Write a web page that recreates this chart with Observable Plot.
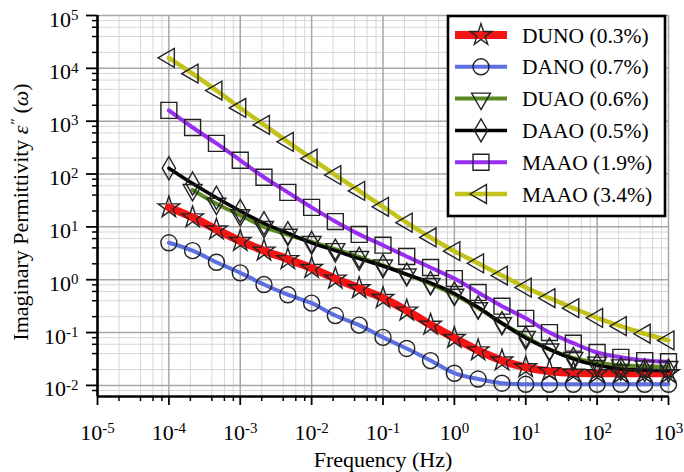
<!DOCTYPE html>
<html><head><meta charset="utf-8">
<script src="https://cdn.jsdelivr.net/npm/d3@7"></script>
<script src="https://cdn.jsdelivr.net/npm/@observablehq/plot@0.6"></script>
<style>body{margin:0;background:#fff}</style>
</head><body><div id="chart"></div>
<script>
// Frequencies (Hz)
const freq = [1e-4, 2.15e-4, 4.64e-4, 1e-3, 2.15e-3, 4.64e-3, 1e-2, 2.15e-2, 4.64e-2, 1e-1, 2.15e-1, 4.64e-1,
              1, 2.15, 4.64, 10, 21.5, 46.4, 100, 215, 464, 1000];

const seriesNames = ["DUNO (0.3%)", "DANO (0.7%)", "DUAO (0.6%)", "DAAO (0.5%)", "MAAO (1.9%)", "MAAO (3.4%)"];
const seriesColors = ["#f41414", "#5b6ee2", "#5a8a20", "#000000", "#9a2df2", "#c2c21a"];

const duno = [23.4, 15.1, 8.9, 5.4, 3.55, 2.45, 1.66, 1.05, 0.69, 0.45, 0.26, 0.14,
              0.079, 0.046, 0.0295, 0.022, 0.0186, 0.0174, 0.017, 0.017, 0.017, 0.017];
const dano = [5.0, 3.55, 2.14, 1.35, 0.81, 0.52, 0.36, 0.21, 0.138, 0.081, 0.05, 0.0295,
              0.017, 0.0132, 0.011, 0.0105, 0.0105, 0.0105, 0.0105, 0.0105, 0.0105, 0.0105];
const duao = [null, 50, 27.5, 16.6, 10, 7.1, 5.2, 3.8, 2.7, 1.86, 1.26, 0.83,
              0.52, 0.29, 0.15, 0.083, 0.048, 0.033, 0.027, 0.024, 0.023, 0.0224];
const daao = [129, 66, 35.5, 20, 11.7, 7.6, 5.0, 3.55, 2.5, 1.82, 1.26, 0.87,
              0.55, 0.30, 0.15, 0.079, 0.048, 0.0316, 0.024, 0.0205, 0.0195, 0.019];
const maao19 = [1600, 760, 380, 182, 87, 45, 23.4, 12.6, 7.2, 4.5, 2.75, 1.7,
                1.05, 0.575, 0.316, 0.186, 0.1, 0.063, 0.042, 0.034, 0.0295, 0.028];
const maao34 = [15800, 7940, 3800, 1780, 851, 407, 195, 95.5, 47.9, 24, 12, 6.3,
                3.47, 2.04, 1.2, 0.71, 0.45, 0.29, 0.19, 0.132, 0.095, 0.071];

const seriesValues = [duno, dano, duao, daao, maao19, maao34];

const majorX = [1e-5, 1e-4, 1e-3, 1e-2, 1e-1, 1e0, 1e1, 1e2, 1e3];
const majorY = [1e-2, 1e-1, 1e0, 1e1, 1e2, 1e3, 1e4, 1e5];
const minorMult = [2, 4, 6, 8];
const yMin = Math.pow(10, -2.21), yMax = 1e5;

const minorX = [], minorY = [];
for (const d of majorX.slice(0, -1)) for (const m of minorMult) minorX.push(d * m);
for (const d of [1e-3, ...majorY.slice(0, -1)]) for (const m of minorMult) if (d * m >= yMin && d * m <= yMax) minorY.push(d * m);

// custom marker symbols
const s3 = Math.sqrt(3);
const triDown = {draw(ctx, size) { const t = Math.sqrt(size / (s3 * 3));
  ctx.moveTo(0, 2 * t); ctx.lineTo(-s3 * t, -t); ctx.lineTo(s3 * t, -t); ctx.closePath(); }};
const triLeft = {draw(ctx, size) { const t = Math.sqrt(size / (s3 * 3));
  ctx.moveTo(-2 * t, 0); ctx.lineTo(t, -s3 * t); ctx.lineTo(t, s3 * t); ctx.closePath(); }};
const symbols = [d3.symbolStar, d3.symbolCircle, triDown, d3.symbolDiamond, d3.symbolSquare, triLeft];
const symR = [6.8, 8, 7, 7, 9, 7];
const lineW = [8, 4, 4, 3.5, 4, 4.5];

const rows = seriesValues.map((vals, i) =>
  freq.map((f, j) => ({series: seriesNames[i], f, v: vals[j]})).filter(d => d.v != null));

const drawOrder = [1, 0, 2, 3, 4, 5];
const fmt = d => "10^" + Math.round(Math.log10(d));
const serif = "'Liberation Serif', 'Times New Roman', serif";

const svg = Plot.plot({
  width: 684, height: 472,
  marginLeft: 97, marginRight: 16, marginTop: 15, marginBottom: 76,
  x: {type: "log", domain: [1e-5, 1e3]},
  y: {type: "log", domain: [yMin, yMax]},
  style: {fontFamily: serif, fontSize: "22px", background: "#fff", color: "#000"},
  marks: [
    Plot.gridX(minorX, {stroke: "#d6d6d6", strokeOpacity: 1, strokeWidth: 1}),
    Plot.gridY(minorY, {stroke: "#d6d6d6", strokeOpacity: 1, strokeWidth: 1}),
    Plot.gridX(majorX, {stroke: "#a6a6a6", strokeOpacity: 1, strokeWidth: 1.5}),
    Plot.gridY(majorY, {stroke: "#a6a6a6", strokeOpacity: 1, strokeWidth: 1.5}),
    ...drawOrder.map(i => Plot.line(rows[i], {x: "f", y: "v", stroke: seriesColors[i], strokeWidth: lineW[i], curve: "catmull-rom"})),
    ...drawOrder.map(i => Plot.dot(rows[i], {x: "f", y: "v", symbol: symbols[i], r: symR[i], stroke: "#222", strokeWidth: 1.4, fill: "none"})),
    Plot.axisX(minorX, {tickSize: 5, tickFormat: () => "", strokeWidth: 1.5, label: null}),
    Plot.axisY(minorY, {tickSize: 5, tickFormat: () => "", strokeWidth: 1.5, label: null}),
    Plot.axisX(majorX, {tickSize: 9, tickPadding: 19, tickFormat: fmt, strokeWidth: 1.8, label: null, fontSize: 22}),
    Plot.axisY(majorY, {tickSize: 11, tickPadding: 8, tickFormat: fmt, strokeWidth: 1.8, label: null, fontSize: 22}),
    Plot.ruleX([1e-5], {stroke: "#000", strokeWidth: 2.6}),
    Plot.ruleY([yMin], {stroke: "#000", strokeWidth: 2.6}),
    Plot.text(["Frequency (Hz)"], {frameAnchor: "bottom", dy: 70, fontSize: 22, lineAnchor: "bottom"})
  ]
});
document.getElementById("chart").appendChild(svg);

const root = d3.select(svg);
// superscript tick labels
root.selectAll('g[aria-label="x-axis tick label"] text, g[aria-label="y-axis tick label"] text').each(function() {
  const t = d3.select(this);
  const s = t.text();
  if (!s.includes("^")) return;
  const [b, e] = s.split("^");
  const isY = this.parentNode.getAttribute("aria-label").startsWith("y");
  t.text(null);
  t.append("tspan").attr("dy", isY ? "0.18em" : null).text(b);
  t.append("tspan").attr("dy", "-0.45em").attr("font-size", "0.68em").text(e);
});

// y-axis title
const yt = root.append("text")
  .attr("transform", "translate(28,212) rotate(-90)")
  .attr("text-anchor", "middle")
  .attr("font-size", 22)
  .attr("font-family", serif);
yt.append("tspan").text("Imaginary Permittivity ");
yt.append("tspan").attr("font-style", "italic").text("ε");
yt.append("tspan").attr("dy", "-0.45em").attr("font-size", "0.7em").attr("font-style", "italic").text("″");
yt.append("tspan").attr("dy", "0.315em").text(" (");
yt.append("tspan").attr("font-style", "italic").text("ω");
yt.append("tspan").text(")");

// legend
const lg = root.append("g").attr("font-family", serif).attr("font-size", 21.5).attr("text-anchor", "start");
lg.append("rect").attr("x", 448).attr("y", 16).attr("width", 217).attr("height", 200)
  .attr("fill", "#fff").attr("stroke", "#000").attr("stroke-width", 2.6);
seriesNames.forEach((name, i) => {
  const cy = 35 + i * 31.8;
  lg.append("line").attr("x1", 455).attr("x2", 507).attr("y1", cy).attr("y2", cy)
    .attr("stroke", seriesColors[i]).attr("stroke-width", lineW[i]);
  lg.append("path").attr("transform", `translate(481,${cy})`)
    .attr("d", d3.symbol(symbols[i], symR[i] * symR[i] * Math.PI)())
    .attr("fill", "none").attr("stroke", "#222").attr("stroke-width", 1.4);
  lg.append("text").attr("x", 522).attr("y", cy + 7.5).attr("text-anchor", "start").text(name);
});
</script>
</body></html>
